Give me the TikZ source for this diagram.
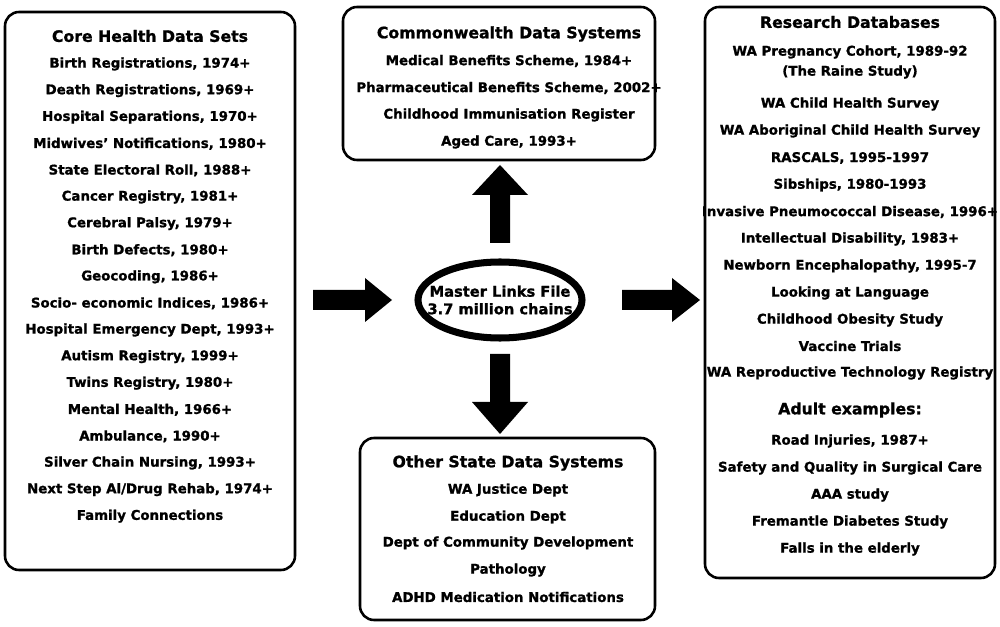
\documentclass[tikz,border=0pt]{standalone}
\usepackage{fontspec}
\setmainfont[FakeBold=1.2]{DejaVu Sans}
\begin{document}
\begin{tikzpicture}[x=0.03cm,y=-0.03cm,
 box/.style={draw,line width=2.2pt,rounded corners=12pt},
 it/.style={font=\bfseries\fontsize{11.4}{13}\selectfont,inner sep=0pt},
 tt/.style={font=\bfseries\fontsize{13.4}{15}\selectfont,inner sep=0pt},
 blk/.style={fill=black}]
\useasboundingbox (0,0) rectangle (1000,627);
\draw[box] (5,12) rectangle (295,570);
\draw[box] (343,7) rectangle (655,160);
\draw[box] (360,438) rectangle (655,620);
\draw[box] (705,7) rectangle (995,578);
\node[tt] (lt) at (150,36) {Core Health Data Sets};
\foreach \t [count=\i from 0] in {Birth Registrations{,} 1974+,Death Registrations{,} 1969+,Hospital Separations{,} 1970+,Midwives’ Notifications{,} 1980+,State Electoral Roll{,} 1988+,Cancer Registry{,} 1981+,Cerebral Palsy{,} 1979+,Birth Defects{,} 1980+,Geocoding{,} 1986+,Socio- economic Indices{,} 1986+,Hospital Emergency Dept{,} 1993+,Autism Registry{,} 1999+,Twins Registry{,} 1980+,Mental Health{,} 1966+,Ambulance{,} 1990+,Silver Chain Nursing{,} 1993+,Next Step Al/Drug Rehab{,} 1974+,Family Connections}
  {\node[it] (l\i) at (150,64+26.6*\i) {\t};}
\node[tt] (tt0) at (509,34) {Commonwealth Data Systems};
\node[it] (t1) at (509,61) {Medical Benefits Scheme, 1984+};
\node[it] (t2) at (509,88) {Pharmaceutical Benefits Scheme, 2002+};
\node[it] (t3) at (509,115) {Childhood Immunisation Register};
\node[it] (t4) at (509,142) {Aged Care, 1993+};
\node[tt] (b0) at (508,463) {Other State Data Systems};
\node[it] (b1) at (508,490) {WA Justice Dept};
\node[it] (b2) at (508,517) {Education Dept};
\node[it] (b3) at (508,543) {Dept of Community Development};
\node[it] (b4) at (508,570) {Pathology};
\node[it] (b5) at (508,597) {ADHD Medication Notifications};
\node[tt] (r0) at (850,22) {Research Databases};
\node[it] (r1) at (850,52) {WA Pregnancy Cohort, 1989-92};
\node[it] (r2) at (850,72) {(The Raine Study)};
\foreach \t/\y [count=\i from 3] in {WA Child Health Survey/104,WA Aboriginal Child Health Survey/131,RASCALS{,} 1995-1997/158,Sibships{,} 1980-1993/185,Invasive Pneumococcal Disease{,} 1996+/212,Intellectual Disability{,} 1983+/239,Newborn Encephalopathy{,} 1995-7/266,Looking at Language/293,Childhood Obesity Study/320,Vaccine Trials/346,WA Reproductive Technology Registry/373,Road Injuries{,} 1987+/441,Safety and Quality in Surgical Care/468,AAA study/495,Fremantle Diabetes Study/522,Falls in the elderly/549}
  {\node[it] (r\i) at (850,\y) {\t};}
\node[tt] (ra) at (850,410) {Adult examples:};
\draw[line width=6pt] (500,300) ellipse (82 and 38);
\node[tt,align=center,font=\bfseries\fontsize{12.5}{15}\selectfont] (m) at (500,300) {Master Links File\\3.7 million chains};
\fill[blk] (313,290) -- (365,290) -- (365,278) -- (392,300) -- (365,322) -- (365,310) -- (313,310) -- cycle;
\fill[blk] (622,290) -- (672,290) -- (672,278) -- (700,300) -- (672,322) -- (672,310) -- (622,310) -- cycle;
\fill[blk] (490,243) -- (490,195) -- (472,195) -- (500,165) -- (528,195) -- (510,195) -- (510,243) -- cycle;
\fill[blk] (490,354) -- (490,402) -- (472,402) -- (500,434) -- (528,402) -- (510,402) -- (510,354) -- cycle;
\end{tikzpicture}
\end{document}
